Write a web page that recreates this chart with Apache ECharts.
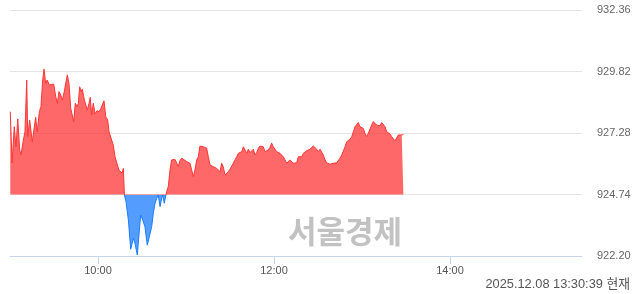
<!DOCTYPE html>
<html><head><meta charset="utf-8">
<script src="https://cdn.jsdelivr.net/npm/echarts@6/dist/echarts.min.js"></script>
<style>html,body{margin:0;padding:0;background:#fff}#c{width:640px;height:294px}</style>
</head><body><div id="c"></div><script>
// minutes elapsed since 09:00
const minutesFromOpen = [
0.2,1.4,2.9,4.1,5.3,6.6,7.5,9.1,10.2,11.4,12.1,13.4,15.2,17.5,18.6,20.0,21.1,22.3,23.2,24.3,25.4,26.8,28.4,29.8,31.2,32.3,33.4,34.6,35.7,37.0,38.2,39.1,40.2,41.4,42.5,43.4,44.5,45.7,46.6,47.5,48.4,49.3,50.7,51.8,52.7,53.9,54.7,55.7,56.8,58.0,59.3,60.7,62.0,62.9,64.1,65.3,66.6,67.5,
68.2,70.4,71.6,73.2,74.3,75.5,76.4,77.3,78.0,79.1,80.7,82.3,84.1,85.2,86.8,88.2,89.1,90.5,92.0,93.6,95.0,96.6,97.7,98.9,100.0,101.1,102.3,103.4,104.1,105.2,106.2,106.8,107.9,109.1,110.2,111.3,112.5,113.7,114.7,115.9,117.1,118.2,120.5,122.7,123.9,125.0,126.1,127.3,128.4,
129.5,130.7,131.8,133.0,134.1,135.2,136.4,137.5,138.6,139.8,140.9,142.0,143.2,144.3,145.4,146.6,147.7,148.8,150.0,151.2,152.2,153.4,154.6,155.7,156.8,158.0,159.1,160.2,161.4,162.5,163.6,164.8,165.9,167.0,168.2,169.3,170.4,171.6,172.7,173.9,175.0,176.1,177.3,178.4,179.5,180.7,181.8,182.9,184.1,185.2,186.3,187.5,188.7,189.8,190.9,192.1,193.2,194.3,195.5,196.6,
197.7,198.9,200.0,201.1,202.3,203.4,204.5,205.7,206.8,208.0,209.1,210.2,211.4,212.5,213.6,214.8,215.9,217.0,218.2,219.3,220.4,221.6,222.7,223.8,225.0,226.2,227.2,228.4,229.6,230.7,231.8,233.0,234.1,235.2,236.4,237.5,238.6,239.8,240.9,242.0,243.2,244.3,245.5,246.6,247.7,248.9,250.0,251.1,252.3,253.4,254.5,255.7,256.8,257.9,259.1,260.2,261.3,262.5,263.7,264.8,265.9,267.1,268.2
];
const prices = [
928.16,926.04,927.54,926.71,927.86,926.58,926.37,926.99,927.33,929.47,927.13,927.82,926.92,927.93,927.33,928.16,928.37,929.47,929.92,929.33,929.47,929.26,929.29,929.30,928.78,928.51,928.99,928.85,928.64,928.99,929.40,929.68,929.33,928.30,928.23,927.75,928.51,928.37,928.51,929.19,928.99,929.09,928.64,928.57,928.23,928.51,928.75,928.02,928.51,928.07,928.20,928.16,928.30,928.23,928.61,927.95,927.82,927.33,
927.33,926.78,926.30,925.96,925.75,925.82,925.62,925.82,924.72,924.44,923.69,922.48,922.93,922.73,922.24,923.27,923.89,923.69,923.41,922.65,923.00,923.41,923.96,924.38,924.58,924.72,924.24,924.58,924.72,924.38,924.31,924.86,925.06,925.75,926.17,926.10,926.19,926.03,925.89,926.14,926.24,926.17,926.10,926.03,925.96,925.48,925.75,926.17,926.30,
926.74,926.78,926.71,926.78,926.65,926.30,925.96,926.03,925.89,925.92,925.82,925.75,925.68,926.03,925.89,925.55,925.48,925.68,925.78,925.82,926.03,926.17,926.30,926.44,926.47,926.51,926.71,926.65,926.44,926.61,926.47,926.51,926.61,926.37,926.47,926.65,926.74,926.78,926.71,926.51,926.58,926.58,926.69,926.86,926.71,926.61,926.51,926.58,926.44,926.51,926.30,926.17,926.03,926.10,926.17,926.24,926.03,926.00,926.05,926.30,
926.29,926.30,926.44,926.51,926.55,926.61,926.61,926.67,926.74,926.71,926.61,926.51,926.61,926.55,926.37,926.17,926.05,926.03,925.99,925.97,926.03,926.00,926.05,926.03,926.24,926.37,926.44,926.71,926.92,926.99,927.02,927.13,927.33,927.54,927.61,927.71,927.54,927.52,927.47,927.27,927.13,927.27,927.33,927.61,927.75,927.79,927.61,927.68,927.57,927.71,927.65,927.54,927.33,927.38,927.24,927.13,927.06,926.96,926.98,927.20,927.24,927.20,927.22
];
const prevClose = 924.74;
const yTickValues = [922.20, 924.74, 927.28, 929.82, 932.36];
const xTickLabels = ['10:00', '12:00', '14:00'];
const sessionStart = '09:00';
const sessionEnd = '15:30';
const watermarkText = '서울경제';
const stampText = '2025.12.08 13:30:39 현재';

function toMin(s) { const p = s.split(':').map(Number); return p[0] * 60 + p[1]; }
const base = toMin(sessionStart);
const xTickValues = xTickLabels.map(s => toMin(s) - base);
const seriesData = minutesFromOpen.map((t, i) => [t, prices[i]]);
function fmtTime(m) {
  const tot = Math.round(base + m);
  const h = Math.floor(tot / 60), mm = tot % 60;
  return String(h).padStart(2, '0') + ':' + String(mm).padStart(2, '0');
}

const chart = echarts.init(document.getElementById('c'), null, { renderer: 'canvas' });
chart.setOption({
  animation: false,
  grid: { left: 10, right: 58, top: 10, bottom: 38 },
  xAxis: {
    type: 'value', min: 0, max: toMin(sessionEnd) - base,
    axisLine: { lineStyle: { color: '#c6d4ec', width: 1 } },
    axisTick: { customValues: xTickValues, length: 8, lineStyle: { color: '#c6d4ec' } },
    axisLabel: { customValues: xTickValues, formatter: fmtTime, color: '#555', fontSize: 11, margin: 9, fontFamily: 'Liberation Sans' },
    splitLine: { show: false }
  },
  yAxis: {
    type: 'value', position: 'right', min: yTickValues[0], max: yTickValues[yTickValues.length - 1],
    axisLine: { show: false },
    axisTick: { show: false, customValues: yTickValues },
    axisLabel: { customValues: yTickValues, formatter: v => v.toFixed(2), color: '#666', fontSize: 11, margin: 15, fontFamily: 'Liberation Sans' },
    splitLine: { show: true, lineStyle: { color: '#e4e4e4' } }
  },
  visualMap: {
    show: false, type: 'piecewise', dimension: 1, seriesIndex: 0,
    pieces: [
      { min: 900, max: prevClose - 0.03, color: '#1a7cff' },
      { min: prevClose - 0.03, max: 960, color: '#ff3535' }
    ]
  },
  series: [{
    type: 'line', data: seriesData, showSymbol: false, symbol: 'none',
    lineStyle: { width: 1 },
    areaStyle: { origin: prevClose, opacity: 0.75 },
    z: 3
  }],
  graphic: [
    { type: 'text', left: 288, top: 216, z: 1, style: { text: watermarkText, font: 'bold 31px "Noto Sans CJK KR"', fill: '#c2c2c2' } },
    { type: 'text', right: 10, top: 278, style: { text: stampText, font: '12.8px "Liberation Sans", "Noto Sans CJK KR"', fill: '#555' } }
  ]
});
</script></body></html>
